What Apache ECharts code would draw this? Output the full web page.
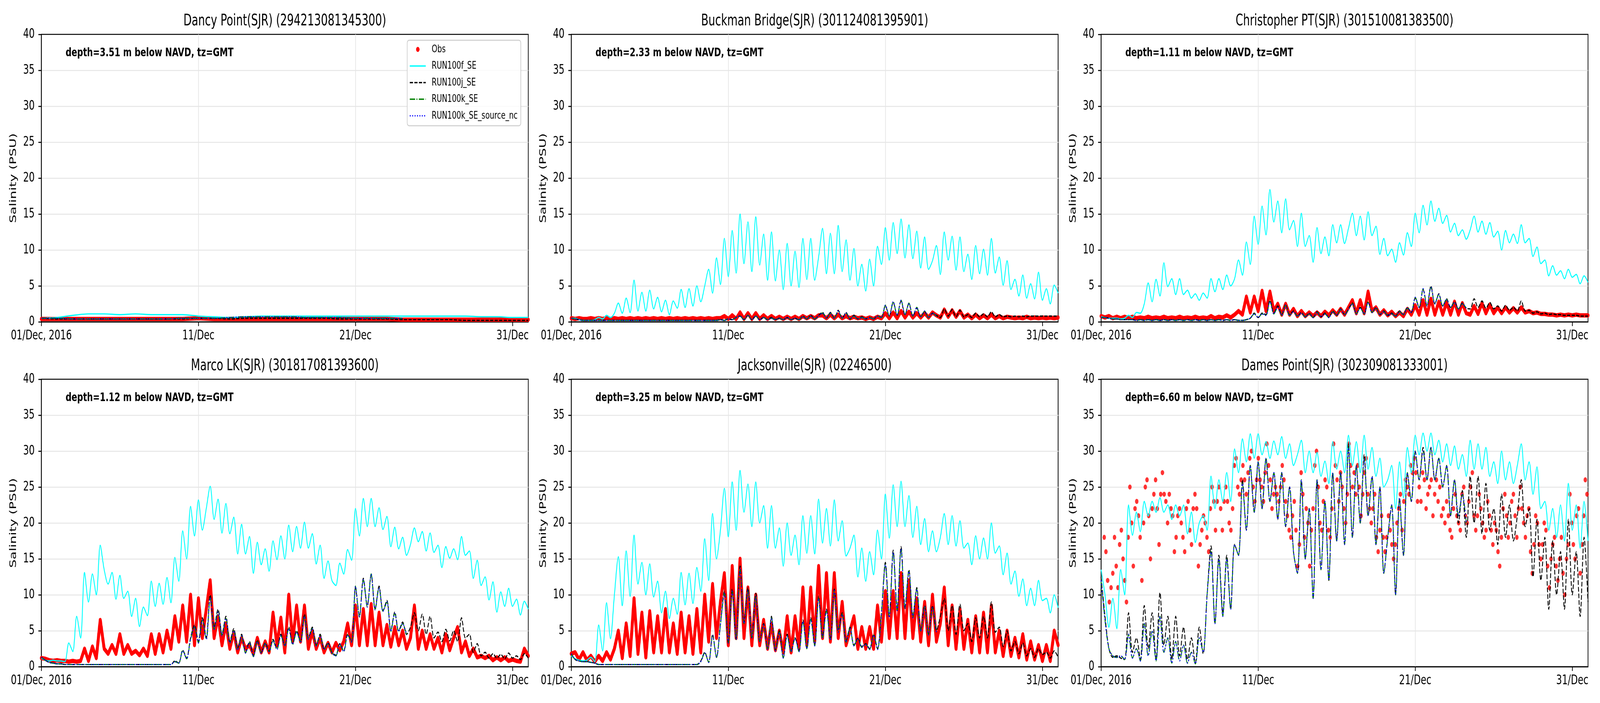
<!DOCTYPE html>
<html><head><meta charset="utf-8">
<script src="https://cdn.jsdelivr.net/npm/echarts@6/dist/echarts.min.js"></script>
<style>html,body{margin:0;padding:0;background:#fff;overflow:hidden}#c{width:6000px;height:1800px;transform-origin:0 0}</style>
</head><body><div id="c"></div>
<script>
// ---------- labels ----------
const tickDays = [0, 10, 20, 30];
const tickLabels = ['01/Dec, 2016', '11/Dec', '21/Dec', '31/Dec'];
const stationTitles = [
  'Dancy Point(SJR) (294213081345300)',
  'Buckman Bridge(SJR) (301124081395901)',
  'Christopher PT(SJR) (301510081383500)',
  'Marco LK(SJR) (301817081393600)',
  'Jacksonville(SJR) (02246500)',
  'Dames Point(SJR) (302309081333001)'
];
const depthNotes = [
  'depth=3.51 m below NAVD, tz=GMT',
  'depth=2.33 m below NAVD, tz=GMT',
  'depth=1.11 m below NAVD, tz=GMT',
  'depth=1.12 m below NAVD, tz=GMT',
  'depth=3.25 m below NAVD, tz=GMT',
  'depth=6.60 m below NAVD, tz=GMT'
];
const seriesNames = ['Obs', 'RUN100f_SE', 'RUN100j_SE', 'RUN100k_SE', 'RUN100k_SE_source_nc'];

// sampling intervals (days since 01/Dec 00:00)
const dailyStep = 1;
const quarterStep = 0.25;
const damesObsStart = 0.2;
const damesObsStep = 0.109;

// ---------- Dancy Point (daily samples) ----------
const dancyObs = [0.4,0.4,0.4,0.4,0.4,0.4,0.4,0.4,0.4,0.4,0.5,0.4,0.4,0.4,0.4,0.4,0.4,0.4,0.4,0.4,0.4,0.4,0.4,0.3,0.3,0.3,0.3,0.3,0.3,0.3,0.3,0.3];
const dancyF = [0.5,0.6,0.9,1.1,1.1,1.0,1.1,1.0,1.0,1.0,0.8,0.7,0.6,0.7,0.8,0.8,0.8,0.8,0.8,0.8,0.8,0.8,0.8,0.8,0.8,0.8,0.8,0.8,0.7,0.7,0.6,0.6];
const dancyJ = [0.5,0.4,0.4,0.4,0.4,0.4,0.4,0.4,0.4,0.4,0.5,0.5,0.4,0.5,0.5,0.5,0.5,0.5,0.5,0.4,0.4,0.4,0.4,0.3,0.3,0.3,0.3,0.2,0.2,0.2,0.2,0.2];
const dancyK = [0.5,0.5,0.4,0.4,0.4,0.4,0.4,0.4,0.4,0.5,0.5,0.5,0.6,0.7,0.7,0.7,0.7,0.6,0.6,0.6,0.5,0.5,0.5,0.5];

// ---------- Buckman Bridge (6-hourly) ----------
const buckObs = [0.5,0.4,0.5,0.4, 0.4,0.5,0.4,0.5,
 0.4,0.5,0.4,0.5, 0.4,0.5,0.4,0.5,
 0.4,0.5,0.4,0.5, 0.4,0.5,0.4,0.5,
 0.4,0.5,0.4,0.5, 0.4,0.5,0.4,0.5,
 0.4,0.5,0.4,0.5, 0.4,0.5,0.5,0.8,
 0.4,0.9,0.4,1.3, 0.4,1.2,0.4,1.2,
 0.4,0.9,0.4,0.8, 0.4,0.7,0.4,0.7,
 0.4,0.7,0.4,0.8, 0.5,0.8,0.5,0.9,
 0.9,0.5,1.0,0.5, 1.0,0.5,0.8,0.5,
 0.7,0.5,0.6,0.4, 0.6,0.4,0.7,0.5,
 1.2,0.5,1.3,0.5, 1.5,0.6,1.4,0.6,
 1.2,0.6,1.2,0.6, 1.3,0.9,0.6,1.7,
 0.7,1.6,0.7,1.5, 0.6,1.0,0.5,1.0,
 0.5,0.9,0.5,1.0, 0.5,0.8,0.5,0.7,
 0.6,0.5,0.6,0.5, 0.7,0.5,0.6,0.5,
 0.6,0.5,0.6,0.5, 0.6];
const buckF = [0.5,0.5,0.3,0.2, 0.2,0.2,0.3,0.6,
 0.4,0.9,0.6,1.2, 2.6,1.2,3.3,1.3,
 5.8,1.5,4.1,1.5, 4.4,1.8,3.4,1.4,
 3.0,1.0,2.9,1.9, 4.5,2.0,4.6,2.2,
 5.0,2.8,5.0,7.3, 4.0,8.9,5.2,11.6,
 6.3,12.7,6.8,15.0, 8.1,13.9,7.0,14.6,
 7.9,12.2,5.8,12.5, 5.7,10.0,4.5,10.9,
 5.0,9.8,4.8,11.6, 5.9,11.6,5.8,9.0,
 13.0,6.7,12.3,6.7, 13.4,7.0,11.4,5.8,
 10.2,5.0,8.0,4.3, 8.7,5.0,10.5,8.0,
 13.1,8.6,13.8,9.5, 14.3,8.9,13.5,8.8,
 12.6,7.5,11.8,7.3, 8.5,10.6,6.6,12.5,
 8.6,11.9,7.2,11.8, 7.0,9.4,5.9,10.6,
 6.7,10.1,6.5,11.6, 6.8,9.0,5.1,8.5,
 4.5,5.9,3.6,6.5, 3.3,5.3,3.2,6.9,
 3.0,4.6,2.5,5.1, 4.0];
const buckJ = [0.5,0.4,0.3,0.2, 0.2,0.2,0.2,0.2,
 0.2,0.2,0.2,0.2, 0.2,0.2,0.2,0.2,
 0.2,0.2,0.2,0.2, 0.2,0.2,0.2,0.2,
 0.2,0.2,0.2,0.2, 0.2,0.2,0.2,0.2,
 0.2,0.2,0.2,0.2, 0.2,0.2,0.3,0.2,
 0.4,0.3,0.6,0.8, 0.3,0.9,0.3,0.8,
 0.3,0.6,0.3,0.6, 0.3,0.5,0.3,0.6,
 0.3,0.5,0.3,0.8, 0.4,0.9,0.4,0.9,
 1.3,0.5,1.3,0.5, 1.6,0.5,1.3,0.4,
 0.9,0.4,0.7,0.4, 0.6,0.4,0.8,0.6,
 2.2,0.8,2.7,0.9, 2.9,1.0,2.5,0.8,
 1.9,0.7,1.4,0.6, 1.2,0.9,0.6,1.8,
 0.8,1.7,0.7,1.6, 0.7,1.0,0.6,1.2,
 0.7,1.1,0.7,1.4, 0.7,1.0,0.7,0.8,
 0.7,0.8,0.7,0.8, 0.7,0.8,0.8,0.8,
 0.8,0.8,0.8,0.8, 0.8];
const buckK = [0.5,0.4,0.3,0.2, 0.2,0.2,0.2,0.2,
 0.2,0.2,0.2,0.2, 0.2,0.2,0.2,0.2,
 0.2,0.2,0.2,0.2, 0.2,0.2,0.2,0.2,
 0.2,0.2,0.2,0.2, 0.2,0.2,0.2,0.2,
 0.2,0.2,0.2,0.2, 0.2,0.2,0.3,0.2,
 0.4,0.3,0.6,0.8, 0.3,0.9,0.3,0.8,
 0.3,0.6,0.3,0.5, 0.3,0.5,0.3,0.6,
 0.3,0.5,0.3,0.7, 0.4,0.8,0.4,0.8,
 1.2,0.5,1.2,0.5, 1.5,0.5,1.2,0.4,
 0.8,0.4,0.6,0.4, 0.6,0.4,0.8,0.6,
 2.3,0.8,2.8,0.9, 3.0,1.0,2.6,0.8,
 2.0,0.7,1.5,0.6, 1.2,0.8];

// ---------- Christopher PT ----------
const chrisObs = [0.8,0.6,0.8,0.5, 0.7,0.5,0.7,0.5,
 0.7,0.5,0.6,0.5, 0.7,0.5,0.6,0.5,
 0.7,0.5,0.6,0.5, 0.7,0.5,0.6,0.5,
 0.7,0.5,0.6,0.5, 0.8,0.5,0.7,0.6,
 0.9,0.6,1.0,1.5, 1.0,3.5,1.3,3.5,
 1.5,4.3,1.5,4.2, 1.5,2.5,1.0,2.5,
 1.0,1.8,0.8,1.5, 0.8,1.3,0.8,1.3,
 0.8,1.4,0.9,1.6, 1.0,1.8,1.0,2.0,
 3.0,1.2,3.0,1.2, 4.2,1.5,2.0,1.0,
 1.6,0.9,1.4,0.8, 1.3,0.8,1.8,1.0,
 2.3,1.0,3.0,1.0, 3.2,1.0,2.8,1.0,
 2.7,1.0,2.8,1.0, 2.6,1.2,1.0,2.2,
 1.1,2.6,1.2,2.4, 1.2,2.0,1.2,2.0,
 1.3,1.9,1.3,2.0, 1.3,1.5,1.2,1.3,
 1.1,1.1,1.0,1.0, 0.9,1.0,0.9,1.0,
 0.9,1.0,0.9,0.9, 0.9];
const chrisF = [0.7,0.6,0.5,0.5, 0.5,0.4,0.5,0.9,
 0.6,1.3,1.2,2.5, 5.4,2.8,5.9,3.6,
 8.2,4.9,6.0,3.8, 6.0,3.8,4.4,3.3,
 3.9,3.0,4.0,3.3, 6.0,4.2,6.0,4.5,
 6.5,5.0,6.0,8.6, 6.5,11.1,8.0,14.7,
 10.8,16.1,12.1,18.4, 13.9,16.8,12.4,17.1,
 12.8,14.1,10.5,15.1, 10.5,12.0,8.3,13.1,
 9.5,11.8,9.2,13.5, 11.0,13.5,10.9,13.0,
 15.1,12.0,14.7,11.4, 15.3,12.0,13.3,9.4,
 11.6,9.2,10.1,8.3, 11.0,9.3,12.4,10.5,
 15.1,12.4,16.2,13.5, 16.8,14.0,15.8,13.7,
 14.8,12.5,13.7,12.0, 12.8,11.5,12.8,14.7,
 12.5,14.0,12.2,13.8, 11.8,12.6,10.0,12.7,
 11.0,12.2,10.9,13.5, 11.0,11.6,9.1,10.4,
 8.1,8.6,6.4,7.8, 6.5,7.1,6.0,7.3,
 6.2,6.6,5.3,6.4, 5.5];
const chrisJ = [0.6,0.6,0.5,0.4, 0.4,0.3,0.3,0.3,
 0.3,0.2,0.3,0.2, 0.3,0.2,0.3,0.2,
 0.3,0.2,0.3,0.2, 0.3,0.2,0.3,0.2,
 0.3,0.2,0.3,0.2, 0.3,0.2,0.3,0.2,
 0.3,0.2,0.3,0.2, 0.2,0.3,0.5,1.2,
 0.6,1.2,1.0,3.0, 1.2,2.2,1.0,2.4,
 1.0,1.5,0.8,1.3, 0.7,1.2,0.6,1.4,
 0.7,1.2,0.6,1.5, 0.9,1.8,1.0,1.8,
 2.6,1.1,2.0,1.1, 2.8,1.3,2.0,1.0,
 1.5,0.9,1.2,0.8, 1.5,1.0,2.0,1.3,
 3.3,2.0,4.5,2.2, 5.0,2.5,3.9,2.2,
 3.2,2.0,2.8,1.8, 2.6,1.9,1.8,3.2,
 2.0,2.9,1.9,2.7, 1.8,2.2,1.5,2.3,
 1.6,2.0,1.5,2.9, 1.5,1.6,1.2,1.4,
 1.1,1.2,1.0,1.1, 1.0,1.0,0.9,0.9,
 0.9,0.9,0.8,0.8, 0.8];
const chrisK = [0.6,0.6,0.5,0.4, 0.4,0.3,0.3,0.3,
 0.3,0.2,0.3,0.2, 0.3,0.2,0.3,0.2,
 0.3,0.2,0.3,0.2, 0.3,0.2,0.3,0.2,
 0.3,0.2,0.3,0.2, 0.3,0.2,0.3,0.2,
 0.3,0.2,0.3,0.2, 0.2,0.3,0.5,1.1,
 0.6,1.1,0.9,2.8, 1.1,2.0,0.9,2.3,
 0.9,1.4,0.8,1.2, 0.7,1.1,0.6,1.3,
 0.7,1.1,0.6,1.4, 0.9,1.7,1.0,1.7,
 2.5,1.1,1.9,1.1, 2.7,1.3,1.9,1.0,
 1.4,0.9,1.1,0.8, 1.4,1.0,1.9,1.3,
 3.4,2.0,4.6,2.2, 4.8,2.5,3.8,2.2,
 3.1,2.0,2.7,1.8, 2.5,1.9];

// ---------- Marco LK ----------
const marcoObs = [1.2,1.1,0.9,0.8, 0.9,0.8,0.8,0.7,
 0.8,0.7,0.8,2.5, 0.8,2.8,1.2,6.5,
 2.5,1.8,3.0,1.8, 4.5,1.8,3.0,1.8,
 2.2,1.6,2.5,1.5, 4.5,1.8,4.5,2.0,
 5.0,2.5,7.0,3.5, 8.5,3.5,10.0,3.0,
 9.5,4.0,8.0,12.0, 4.0,7.0,3.0,6.0,
 2.5,4.8,2.0,4.0, 2.5,3.0,1.8,4.0,
 2.0,3.5,2.0,7.5, 3.0,6.8,2.0,10.0,
 3.5,8.5,3.5,8.5, 2.5,5.0,2.5,4.0,
 2.0,3.3,2.0,3.3, 2.3,3.5,6.0,3.0,
 8.5,3.0,8.0,3.0, 8.7,3.0,7.5,3.0,
 5.8,2.8,5.5,3.0, 5.0,2.5,4.0,8.5,
 2.5,5.0,2.5,4.5, 2.5,4.0,2.0,4.5,
 2.3,4.0,5.5,2.0, 3.5,1.5,2.5,1.3,
 1.5,1.2,1.5,0.9, 1.3,0.9,1.3,0.8,
 1.0,0.8,0.7,2.5, 1.5];
const marcoF = [1.2,0.9,0.8,0.9, 0.8,0.8,0.7,3.3,
 2.1,7.0,4.0,13.1, 9.0,12.9,10.0,16.9,
 13.5,11.5,13.1,9.4, 12.7,9.5,10.5,7.0,
 9.5,5.6,8.3,7.1, 11.9,8.4,11.6,8.7,
 12.4,8.9,15.2,11.9, 18.9,15.0,22.3,18.2,
 23.2,19.0,22.0,25.1, 20.5,23.3,18.6,22.7,
 18.5,20.8,15.7,19.8, 15.7,18.1,13.0,17.3,
 14.2,16.4,13.3,17.5, 14.9,18.2,15.0,19.7,
 16.0,19.5,16.5,20.1, 16.5,18.5,14.3,16.9,
 12.3,14.7,12.0,11.3, 14.4,12.9,16.3,14.8,
 22.0,18.2,23.4,19.5, 23.4,19.5,22.1,19.1,
 20.9,16.7,19.4,16.4, 18.0,15.5,17.0,19.3,
 17.4,18.8,16.1,18.6, 15.9,16.9,13.8,16.7,
 15.1,16.4,14.9,18.1, 15.5,16.1,12.3,14.8,
 11.3,12.5,9.3,11.8, 7.6,10.4,8.4,10.9,
 8.4,9.4,7.2,9.1, 8.0];
const marcoJ = [1.3,0.9,0.6,0.5, 0.4,0.4,0.3,0.3,
 0.3,0.3,0.3,0.3, 0.3,0.3,0.3,0.3,
 0.3,0.3,0.3,0.3, 0.3,0.3,0.3,0.3,
 0.3,0.3,0.3,0.3, 0.3,0.3,0.3,0.3,
 0.3,0.3,0.8,0.5, 2.3,1.2,4.0,5.8,
 3.5,6.8,4.0,10.0, 5.5,8.0,4.5,7.0,
 3.5,5.3,2.5,4.5, 2.0,3.5,1.5,3.7,
 2.0,3.3,2.2,3.8, 2.5,4.5,3.0,5.5,
 3.2,5.0,3.5,7.3, 4.0,5.5,3.0,4.5,
 2.5,3.3,2.0,1.6, 3.2,2.2,4.5,3.5,
 11.0,7.0,12.3,8.5, 12.8,8.0,11.2,7.8,
 9.2,5.0,7.6,5.0, 6.2,4.5,5.5,7.5,
 5.0,7.3,4.5,7.0, 4.0,4.8,3.5,5.2,
 3.6,5.0,3.5,6.8, 4.0,4.5,2.0,3.2,
 1.5,2.0,1.2,1.8, 1.2,1.7,1.1,1.9,
 1.2,1.5,1.0,1.8, 1.2];
const marcoK = [1.3,0.9,0.6,0.5, 0.4,0.4,0.3,0.3,
 0.3,0.3,0.3,0.3, 0.3,0.3,0.3,0.3,
 0.3,0.3,0.3,0.3, 0.3,0.3,0.3,0.3,
 0.3,0.3,0.3,0.3, 0.3,0.3,0.3,0.3,
 0.3,0.3,0.7,0.5, 2.2,1.1,3.8,5.5,
 3.3,6.5,3.8,9.6, 5.2,7.6,4.3,6.7,
 3.3,5.0,2.3,4.3, 1.9,3.3,1.4,3.5,
 1.9,3.2,2.1,3.6, 2.4,4.3,2.9,5.3,
 3.1,4.8,3.4,7.0, 3.8,5.3,2.9,4.3,
 2.4,3.2,1.9,1.5, 3.1,2.1,4.4,3.4,
 11.2,6.9,12.1,8.3, 12.9,7.9,11.0,7.7,
 9.0,4.9,7.4,4.9, 6.0,4.4];

// ---------- Jacksonville ----------
const jaxObs = [1.8,2.0,1.0,2.0, 0.9,1.5,0.7,1.5,
 0.8,2.0,1.0,2.5, 5.0,1.2,6.0,1.5,
 9.5,1.8,7.5,1.3, 7.7,2.0,7.0,2.0,
 8.0,2.0,6.0,1.8, 7.5,2.0,7.0,1.8,
 8.0,2.0,10.0,3.5, 11.5,4.0,9.0,13.0,
 3.0,14.0,4.0,15.0, 4.0,11.0,3.0,10.0,
 3.0,6.5,2.5,6.0, 2.3,5.0,2.0,7.0,
 2.0,7.0,2.5,11.0, 3.0,11.0,3.5,14.0,
 4.0,13.0,3.5,13.0, 4.0,9.0,3.0,5.0,
 7.0,2.5,5.5,2.5, 5.5,2.5,8.5,3.5,
 10.5,4.0,10.5,4.0, 13.0,4.0,12.0,4.0,
 9.5,3.5,9.0,3.0, 10.0,3.5,6.0,11.0,
 3.0,8.5,2.5,8.0, 2.5,6.5,2.0,7.0,
 2.0,7.5,2.0,8.5, 2.0,5.0,1.5,5.0,
 1.5,4.0,1.3,4.5, 1.0,3.5,1.0,3.0,
 0.8,3.0,0.8,5.0, 3.0];
const jaxF = [1.5,1.1,0.9,0.8, 0.9,1.3,0.7,5.8,
 2.2,8.9,3.9,10.0, 15.3,8.5,16.1,9.8,
 18.3,11.5,14.5,10.0, 14.3,9.7,11.9,7.5,
 10.5,6.7,9.5,7.3, 13.1,8.6,13.0,8.8,
 13.8,10.5,17.8,12.0, 21.3,15.0,19.0,24.8,
 18.1,25.7,19.0,27.3, 21.5,25.4,19.5,25.7,
 20.0,22.4,16.5,22.4, 16.5,19.3,14.0,20.0,
 15.5,18.3,14.2,21.0, 15.8,21.0,15.7,23.3,
 17.2,22.0,16.8,23.2, 17.5,20.3,15.4,16.5,
 18.3,12.5,16.5,11.9, 16.0,12.8,19.0,15.0,
 24.0,17.9,25.3,19.5, 25.8,19.5,23.8,18.0,
 22.3,17.0,20.6,16.0, 18.9,16.0,18.0,21.3,
 17.0,21.0,16.8,20.3, 16.5,17.2,14.2,18.2,
 15.0,17.9,15.0,20.0, 15.8,16.8,12.8,15.8,
 11.5,13.3,9.8,12.2, 8.5,10.9,8.5,12.0,
 9.2,9.5,7.5,10.0, 8.2];
const jaxJ = [1.8,1.0,0.8,0.7, 0.7,0.6,0.5,0.3,
 0.3,0.3,0.3,0.3, 0.3,0.3,0.3,0.3,
 0.3,0.3,0.3,0.3, 0.3,0.3,0.3,0.3,
 0.3,0.3,0.3,0.3, 0.3,0.3,0.3,0.3,
 0.3,0.8,2.0,0.6, 4.5,1.3,6.0,10.5,
 3.3,10.8,3.8,14.0, 6.0,11.0,4.0,10.2,
 3.5,6.0,2.5,7.0, 2.3,5.0,1.3,4.5,
 2.2,4.0,2.2,6.5, 2.6,6.8,3.0,9.8,
 4.2,8.0,3.8,10.8, 5.0,7.5,3.5,5.5,
 3.0,4.0,2.8,3.2, 2.5,4.5,2.5,7.5,
 14.5,7.0,16.2,8.0, 16.7,8.3,13.5,7.0,
 11.0,5.0,8.5,4.5, 8.5,5.0,7.0,9.5,
 5.0,8.5,4.5,8.7, 5.0,6.0,3.5,6.8,
 4.0,7.0,4.0,9.0, 4.8,5.5,2.8,5.0,
 2.2,3.5,1.8,3.3, 1.5,2.5,1.3,2.5,
 1.7,2.0,1.2,2.2, 1.3];
const jaxK = [1.8,1.0,0.8,0.7, 0.7,0.6,0.5,0.3,
 0.3,0.3,0.3,0.3, 0.3,0.3,0.3,0.3,
 0.3,0.3,0.3,0.3, 0.3,0.3,0.3,0.3,
 0.3,0.3,0.3,0.3, 0.3,0.3,0.3,0.3,
 0.3,0.7,1.9,0.6, 4.3,1.3,5.8,10.2,
 3.3,10.5,3.8,13.6, 6.0,10.6,4.0,9.8,
 3.5,5.8,2.4,6.8, 2.2,4.8,1.2,4.3,
 2.1,3.9,2.1,6.3, 2.5,6.6,2.9,9.5,
 4.0,7.8,3.7,10.6, 4.8,7.3,3.4,5.3,
 2.9,3.9,2.7,3.1, 2.4,4.4,2.4,7.3,
 14.2,6.8,15.9,7.8, 16.4,8.1,13.3,6.8,
 10.8,4.9,8.3,4.4, 8.2,4.8];

// ---------- Dames Point ----------
const damesObs = [18,16,12,9,11,13,18,14,11,17,19,15,12,9,18,25,20,14,22,23,21,18,12,20,25,26,21,15,22,24,
 26,22,17,24,27,24,23,20,24,22,21,16,18,21,22,20,18,16,22,23,19,17,22,24,22,14,17,19,21,20,
 18,16,22,25,23,19,23,25,22,19,23,25,23,20,19,22,28,29,25,24,26,28,26,24,27,29,30,25,23,26,
 29,26,25,23,27,31,28,26,22,24,25,24,23,25,28,26,23,21,19,18,21,23,19,14,17,27,24,18,22,20,
 14,19,22,28,30,25,20,19,23,26,25,19,18,22,31,28,26,23,27,25,22,20,24,31,28,25,27,24,28,25,
 21,24,27,29,24,22,20,22,24,18,16,19,21,18,16,18,21,19,17,15,17,20,22,24,19,23,26,25,24,28,
 27,29,27,23,25,23,27,26,22,24,25,26,21,24,26,23,25,21,22,20,23,21,19,18,22,24,21,20,19,24,
 25,21,20,23,25,27,21,19,21,24,22,20,18,19,23,21,19,17,20,19,16,14,18,22,24,21,18,20,23,24,
 21,18,22,25,22,20,18,21,22,16,13,17,21,20,17,15,17,20,19,14,11,15,17,18,14,12,15,18,13,10,
 15,17,24,20,17,15,21,22,13,17,21,26,24,19];
const damesF = [13.5,10.0,5.5,9.5, 5.3,13.5,10.0,22.5,
 18.3,21.5,18.8,23.0, 21.0,23.0,21.5,23.5,
 21.5,22.5,20.5,22.5, 21.0,22.5,18.5,21.5,
 17.3,20.0,21.0,19.0, 26.5,22.0,26.0,23.0,
 27.0,23.0,30.3,27.0, 31.7,28.5,32.4,29.0,
 32.4,29.5,31.3,29.0, 31.4,29.5,32.0,29.0,
 31.0,28.0,29.5,31.5, 27.0,30.0,27.0,29.8,
 26.5,28.6,25.5,31.3, 27.5,30.0,27.0,32.2,
 28.0,31.3,27.0,32.2, 27.5,30.5,26.5,29.0,
 25.0,26.0,28.0,22.0, 28.5,23.5,30.5,27.0,
 32.2,29.5,32.5,30.0, 32.5,29.5,31.5,28.5,
 31.0,28.0,30.7,27.5, 29.5,26.5,31.5,27.5,
 31.0,27.5,30.5,26.5, 28.5,25.5,30.0,26.0,
 28.5,25.5,28.0,31.0, 26.0,28.5,24.0,27.8,
 22.0,23.0,19.0,22.0, 18.0,22.5,17.5,25.5,
 19.0,22.5,16.5,23.0, 17.5];
const damesJ = [12.5,7.0,2.5,1.3, 1.5,1.2,1.0,7.5,
 2.0,4.0,1.0,8.5, 2.5,7.5,1.0,10.3,
 3.0,7.0,1.0,7.0, 1.5,5.5,1.0,4.0,
 0.5,5.5,1.8,10.0, 16.8,6.0,15.5,7.5,
 15.5,8.0,17.0,15.5, 26.0,19.0,28.0,21.5,
 28.5,22.0,29.0,23.0, 27.0,20.5,27.0,19.5,
 25.0,16.0,13.0,26.0, 15.0,22.0,9.5,26.0,
 13.5,23.0,12.0,27.0, 17.5,27.0,17.0,31.0,
 18.0,28.0,20.0,29.5, 21.0,26.5,17.0,25.0,
 13.0,18.0,22.5,10.0, 23.5,15.5,27.0,23.0,
 30.0,26.0,30.5,26.0, 30.5,26.0,29.0,25.0,
 28.0,21.0,26.0,20.0, 24.5,18.0,26.5,20.0,
 26.5,18.5,25.5,19.0, 22.0,17.0,24.0,18.0,
 22.5,17.5,21.0,26.0, 19.5,22.0,12.5,20.5,
 12.0,18.0,8.0,17.5, 10.0,16.0,8.0,20.5,
 10.0,16.0,7.0,18.0, 9.0];
const damesK = [12.0,6.5,2.5,1.5, 1.3,1.5,1.0,4.5,
 1.2,2.5,0.8,6.0, 1.5,5.0,0.8,7.0,
 2.0,4.0,0.5,3.5, 0.8,3.0,0.5,2.0,
 0.4,4.0,2.0,10.0, 16.0,6.0,15.0,7.0,
 15.0,8.0,17.0,15.5, 25.5,19.0,28.0,21.5,
 28.5,22.0,29.0,23.0, 27.0,20.5,27.0,19.5,
 25.0,16.0,13.0,26.0, 15.0,22.0,9.5,26.0,
 13.5,23.0,12.0,27.0, 17.5,27.0,17.0,30.5,
 18.0,28.0,20.0,29.0, 21.0,26.5,17.0,25.0,
 13.0,18.0,22.5,10.0, 23.5,15.5,27.0,23.0,
 30.0,26.0,30.0,26.0, 30.5,26.0,29.0,25.0,
 28.0,21.0,26.0,21.0, 24.0,20.0];

// ---------- assemble ----------
const panels = [
  {obs: dancyObs, f: dancyF, j: dancyJ, k: dancyK, step: dailyStep, obsStart: 0, obsStep: dailyStep, scatterObs: false},
  {obs: buckObs, f: buckF, j: buckJ, k: buckK, step: quarterStep, obsStart: 0, obsStep: quarterStep, scatterObs: false},
  {obs: chrisObs, f: chrisF, j: chrisJ, k: chrisK, step: quarterStep, obsStart: 0, obsStep: quarterStep, scatterObs: false},
  {obs: marcoObs, f: marcoF, j: marcoJ, k: marcoK, step: quarterStep, obsStart: 0, obsStep: quarterStep, scatterObs: false},
  {obs: jaxObs, f: jaxF, j: jaxJ, k: jaxK, step: quarterStep, obsStart: 0, obsStep: quarterStep, scatterObs: false},
  {obs: damesObs, f: damesF, j: damesJ, k: damesK, step: quarterStep, obsStart: damesObsStart, obsStep: damesObsStep, scatterObs: true}
];

// the chart is laid out on a 6000x1800 design surface, then fitted to the viewport
const host = document.getElementById('c');
host.style.transform = 'scale(' + (window.innerWidth / 6000) + ',' + (window.innerHeight / 1800) + ')';

const FONT = 'DejaVu Sans';
const gridLefts = [155, 2142, 4129];
const gridTops = [88, 971];
const gridW = 1826, gridH = 736;
const axisCol = '#000', frameW = 2.7, gridCol = '#e6e6e6';
const lw = 3.2;

function toXY(arr, t0, dt) { return arr.map((v, i) => [t0 + i * dt, v]); }

const grids = [], xAxes = [], yAxes = [], series = [], titles = [], graphics = [];
panels.forEach((p, i) => {
  const L = gridLefts[i % 3], T = gridTops[Math.floor(i / 3)];
  grids.push({left: L, top: T, width: gridW, height: gridH, show: true, borderColor: axisCol, borderWidth: frameW, backgroundColor: 'rgba(0,0,0,0)'});
  xAxes.push({
    gridIndex: i, type: 'value', min: 0, max: 31, interval: 10,
    axisLine: {show: true, onZero: false, lineStyle: {color: axisCol, width: frameW}},
    axisTick: {show: true, length: 11, customValues: tickDays, lineStyle: {color: axisCol, width: frameW}},
    axisLabel: {show: true, customValues: tickDays, margin: 19, fontSize: 34, fontFamily: FONT, color: '#000', hideOverlap: false,
      formatter: v => { const k = tickDays.indexOf(v); return k >= 0 ? tickLabels[k] : ''; }},
    splitLine: {show: true, showMinLine: false, showMaxLine: false, lineStyle: {color: gridCol, width: 2.5}}
  });
  yAxes.push({
    gridIndex: i, type: 'value', min: 0, max: 40, interval: 5,
    name: 'Salinity (PSU)', nameLocation: 'middle', nameGap: 87, nameRotate: 90,
    nameTextStyle: {fontSize: 34, fontFamily: FONT, color: '#000'},
    axisLine: {show: true, onZero: false, lineStyle: {color: axisCol, width: frameW}},
    axisTick: {show: true, length: 11, lineStyle: {color: axisCol, width: frameW}},
    axisLabel: {show: true, margin: 25, fontSize: 34, fontFamily: FONT, color: '#000'},
    splitLine: {show: true, showMinLine: false, showMaxLine: false, lineStyle: {color: gridCol, width: 2.5}}
  });
  titles.push({text: stationTitles[i], left: L + gridW / 2, top: T - 53, textAlign: 'center', padding: 0,
    textStyle: {fontSize: 40, fontWeight: 'normal', fontFamily: FONT, color: '#000'}});
  graphics.push({type: 'text', left: L + 91, top: T + 32, z: 50,
    style: {text: depthNotes[i], fontSize: 31, fontWeight: 'bold', fontFamily: FONT, fill: '#000'}});

  const common = {xAxisIndex: i, yAxisIndex: i, animation: false, silent: true};
  if (p.scatterObs) {
    series.push(Object.assign({type: 'scatter', name: seriesNames[0], data: toXY(p.obs, p.obsStart, p.obsStep),
      symbol: 'circle', symbolSize: 13, itemStyle: {color: '#ff0000'}}, common));
  } else {
    series.push(Object.assign({type: 'line', name: seriesNames[0], data: toXY(p.obs, p.obsStart, p.obsStep),
      symbol: 'none', itemStyle: {color: '#ff0000'},
      lineStyle: {color: '#ff0000', width: 11, cap: 'round', join: 'round'}}, common));
  }
  series.push(Object.assign({type: 'line', name: seriesNames[1], data: toXY(p.f, 0, p.step), symbol: 'none', smooth: 0.3,
    itemStyle: {color: '#00ffff'}, lineStyle: {color: '#00ffff', width: lw}}, common));
  series.push(Object.assign({type: 'line', name: seriesNames[2], data: toXY(p.j, 0, p.step), symbol: 'none', smooth: 0.3,
    itemStyle: {color: '#000000'}, lineStyle: {color: '#000000', width: lw, type: [12, 5]}}, common));
  series.push(Object.assign({type: 'line', name: seriesNames[3], data: toXY(p.k, 0, p.step), symbol: 'none', smooth: 0.3,
    itemStyle: {color: '#008000'}, lineStyle: {color: '#008000', width: lw, type: [20, 5, 3.5, 5]}}, common));
  series.push(Object.assign({type: 'line', name: seriesNames[4], data: toXY(p.k, 0, p.step), symbol: 'none', smooth: 0.3,
    itemStyle: {color: '#0000ff'}, lineStyle: {color: '#0000ff', width: lw, type: [3.5, 5.5]}}, common));
});

const hiddenMarker = {opacity: 0};
const chart = echarts.init(host, null, {renderer: 'canvas'});
chart.setOption({
  animation: false,
  backgroundColor: '#ffffff',
  title: titles,
  grid: grids,
  xAxis: xAxes,
  yAxis: yAxes,
  graphic: graphics,
  legend: {
    show: true, orient: 'vertical', left: 1527, top: 103, selectedMode: false,
    data: [
      {name: 'Obs', icon: 'circle'},
      {name: 'RUN100f_SE', itemStyle: hiddenMarker},
      {name: 'RUN100j_SE', itemStyle: hiddenMarker},
      {name: 'RUN100k_SE', itemStyle: hiddenMarker},
      {name: 'RUN100k_SE_source_nc', itemStyle: hiddenMarker}
    ],
    itemWidth: 60, itemHeight: 13, itemGap: 15.5,
    padding: [10, 12, 12, 8],
    backgroundColor: 'rgba(255,255,255,0.8)', borderColor: '#cccccc', borderWidth: 2.5, borderRadius: 7,
    lineStyle: {width: 3.5},
    textStyle: {fontSize: 27, fontFamily: FONT, color: '#000', lineHeight: 27, padding: [0, 0, 0, 17]}
  },
  series: series
});
</script></body></html>
